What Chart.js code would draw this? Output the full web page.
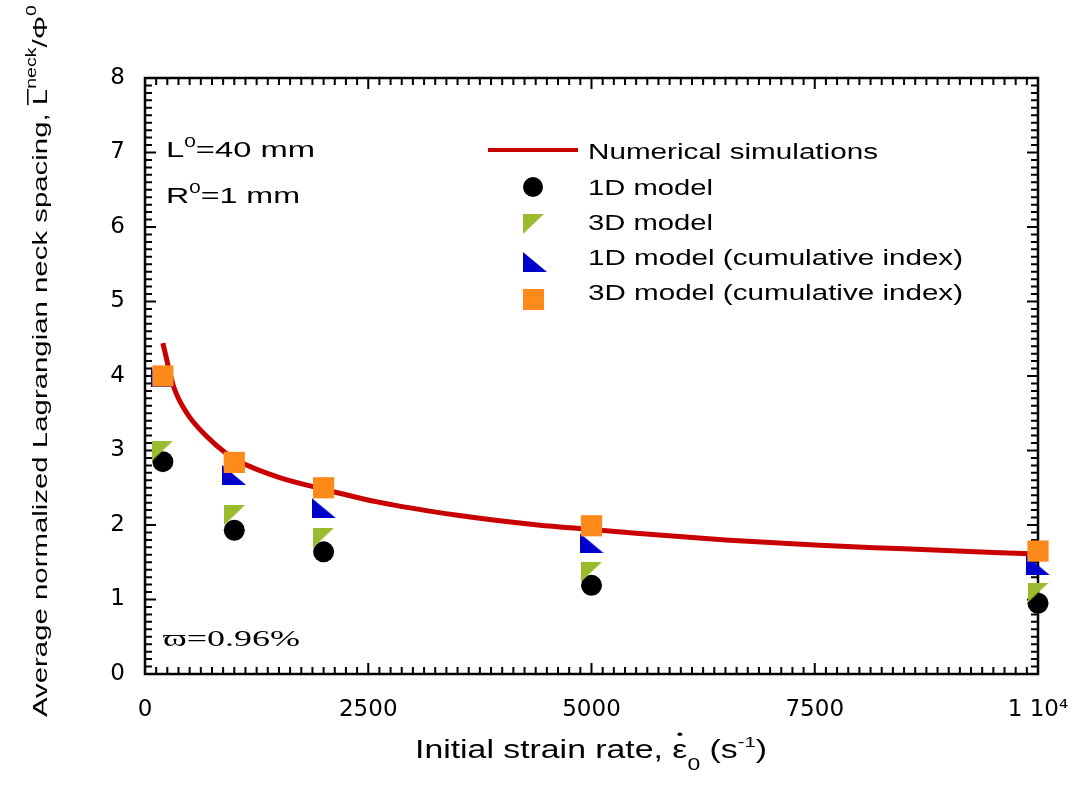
<!DOCTYPE html>
<html>
<head>
<meta charset="utf-8">
<script src="https://cdn.jsdelivr.net/npm/chart.js@4"></script>
<style>
  body { margin: 0; background: #fff; }
  canvas { display: block; }
</style>
</head>
<body>
<canvas id="chart" width="1080" height="789"></canvas>
<script>
// strain rates where the models were evaluated
const rates = [200, 1000, 2000, 5000, 10000];
const oneD = [2.85, 1.93, 1.64, 1.19, 0.95];
const threeD = [3.0, 2.13, 1.83, 1.37, 1.09];
const oneDCum = [3.98, 2.67, 2.23, 1.76, 1.46];
const threeDCum = [4.0, 2.84, 2.5, 1.99, 1.65];

// numerical simulations curve
const simRates = [200, 320, 470, 690, 910, 1060, 1500, 2000, 2600, 3500, 4400, 5000, 5500, 6500, 7500, 8500, 9500, 10000];
const simSpacing = [4.44, 3.86, 3.5, 3.19, 2.96, 2.85, 2.64, 2.48, 2.31, 2.13, 2.0, 1.94, 1.89, 1.8, 1.73, 1.68, 1.63, 1.61];

const xTicks = [0, 2500, 5000, 7500, 10000];
const yTicks = [0, 1, 2, 3, 4, 5, 6, 7, 8];

const RED = "#c80000";
const GREEN = "#9bbb2f";
const BLUE = "#0000cc";
const ORANGE = "#ff8a1c";

const toXY = (xs, ys) => xs.map((x, i) => ({ x: x, y: ys[i] }));

const triangle = (color, w, h, kind) => {
  const c = document.createElement("canvas");
  c.width = w;
  c.height = h;
  const g = c.getContext("2d");
  g.fillStyle = color;
  g.beginPath();
  if (kind === "down") {
    g.moveTo(0, 0); g.lineTo(w, 0); g.lineTo(0, h);
  } else {
    g.moveTo(0, 0); g.lineTo(0, h); g.lineTo(w, h);
  }
  g.closePath();
  g.fill();
  return c;
};
const greenTri = triangle(GREEN, 21, 20, "down");
const blueTri = triangle(BLUE, 24, 20, "up");

// draws a run of text pieces squeezed/stretched to a given width
const fitText = (ctx, pieces, x, y, width) => {
  let raw = 0;
  for (const p of pieces) {
    ctx.font = p.size + "px " + (p.family || "'Liberation Sans', Arial");
    p.w = ctx.measureText(p.t).width;
    raw += p.w;
  }
  const sx = width / raw;
  ctx.save();
  ctx.translate(x, y);
  ctx.scale(sx, 1);
  ctx.fillStyle = "#000";
  ctx.textBaseline = "alphabetic";
  ctx.textAlign = "left";
  let cx = 0;
  for (const p of pieces) {
    ctx.font = p.size + "px " + (p.family || "'Liberation Sans', Arial");
    ctx.fillText(p.t, cx, p.dy || 0);
    if (p.bar) {
      ctx.fillRect(cx, -p.size * 0.95, p.w, 1.5);
    }
    if (p.dot) {
      ctx.beginPath();
      ctx.arc(cx + p.w / 2, -p.size * 0.95, 1.8, 0, Math.PI * 2);
      ctx.fill();
    }
    cx += p.w;
  }
  ctx.restore();
};

const framePlugin = {
  id: "frame",
  beforeDatasetsDraw(chart) {
    const { ctx, chartArea: a, scales } = chart;
    ctx.save();
    ctx.strokeStyle = "#000";
    ctx.lineWidth = 2.5;
    ctx.strokeRect(a.left, a.top, a.right - a.left, a.bottom - a.top);
    ctx.lineWidth = 2;
    ctx.beginPath();
    for (let i = 0; i <= 80; i++) {
      const py = scales.y.getPixelForValue(i / 10);
      const len = i % 10 === 0 ? 11 : 7;
      ctx.moveTo(a.left, py); ctx.lineTo(a.left + len, py);
      ctx.moveTo(a.right, py); ctx.lineTo(a.right - len, py);
    }
    for (let i = 0; i <= 80; i++) {
      const px = scales.x.getPixelForValue(i * 125);
      const len = i % 20 === 0 ? 11 : 7;
      ctx.moveTo(px, a.bottom); ctx.lineTo(px, a.bottom - len);
      ctx.moveTo(px, a.top); ctx.lineTo(px, a.top + len);
    }
    ctx.stroke();
    ctx.restore();
  },
  afterDraw(chart) {
    const ctx = chart.ctx;
    ctx.save();

    // axis titles
    ctx.save();
    ctx.translate(47, 717);
    ctx.rotate(-Math.PI / 2);
    fitText(ctx, [
      { t: "Average normalized Lagrangian neck spacing, ", size: 21 },
      { t: "L", size: 21, bar: true },
      { t: "neck", size: 14, dy: -11 },
      { t: "/Φ", size: 21 },
      { t: "0", size: 14, dy: -11 },
    ], 0, 0, 712);
    ctx.restore();

    fitText(ctx, [
      { t: "Initial strain rate, ", size: 25 },
      { t: "ε", size: 25, dot: true },
      { t: "0", size: 17, dy: 12 },
      { t: " (s", size: 25 },
      { t: "-1", size: 15, dy: -11 },
      { t: ")", size: 25 },
    ], 415, 758, 352);

    // annotations
    fitText(ctx, [
      { t: "L", size: 22 },
      { t: "0", size: 14, dy: -10 },
      { t: "=40 mm", size: 22 },
    ], 166, 157, 149);
    fitText(ctx, [
      { t: "R", size: 22 },
      { t: "0", size: 14, dy: -10 },
      { t: "=1 mm", size: 22 },
    ], 166, 203, 134);
    fitText(ctx, [
      { t: "ϖ=0.96%", size: 24, family: "'Liberation Serif', 'DejaVu Serif', serif" },
    ], 163, 646, 137);

    // legend
    ctx.strokeStyle = RED;
    ctx.lineWidth = 4;
    ctx.beginPath();
    ctx.moveTo(488, 150);
    ctx.lineTo(578, 150);
    ctx.stroke();

    ctx.fillStyle = "#000";
    ctx.beginPath();
    ctx.arc(533, 187, 10, 0, Math.PI * 2);
    ctx.fill();
    ctx.drawImage(greenTri, 523, 214);
    ctx.drawImage(blueTri, 523, 252);
    ctx.fillStyle = ORANGE;
    ctx.fillRect(523, 289, 21, 21);

    const legendLabels = [
      ["Numerical simulations", 159, 290],
      ["1D model", 195, 125],
      ["3D model", 230, 125],
      ["1D model (cumulative index)", 265, 375],
      ["3D model (cumulative index)", 300, 375],
    ];
    for (const [t, y, w] of legendLabels) {
      fitText(ctx, [{ t: t, size: 22 }], 588, y, w);
    }
    ctx.restore();
  },
};

const tickFont = { family: "'DejaVu Sans', sans-serif", size: 23 };

new Chart(document.getElementById("chart"), {
  type: "scatter",
  data: {
    datasets: [
      {
        label: "3D model (cumulative index)",
        data: toXY(rates, threeDCum),
        pointStyle: "rect",
        pointRadius: 15,
        backgroundColor: ORANGE,
        borderWidth: 0,
        order: 0,
        clip: false,
      },
      {
        label: "1D model (cumulative index)",
        data: toXY(rates, oneDCum),
        pointStyle: blueTri,
        pointRadius: 12,
        order: 1,
        clip: false,
      },
      {
        label: "3D model",
        data: toXY(rates, threeD),
        pointStyle: greenTri,
        pointRadius: 11,
        order: 2,
        clip: false,
      },
      {
        label: "1D model",
        data: toXY(rates, oneD),
        pointStyle: "circle",
        pointRadius: 10.5,
        backgroundColor: "#000",
        borderWidth: 0,
        order: 3,
        clip: false,
      },
      {
        type: "line",
        label: "Numerical simulations",
        data: toXY(simRates, simSpacing),
        borderColor: RED,
        borderWidth: 5,
        pointRadius: 0,
        fill: false,
        cubicInterpolationMode: "monotone",
        order: 4,
      },
    ],
  },
  options: {
    responsive: false,
    animation: false,
    devicePixelRatio: 1,
    layout: { padding: { top: 78, right: 42, left: 0, bottom: 0 } },
    plugins: {
      legend: { display: false },
      tooltip: { enabled: false },
    },
    scales: {
      x: {
        type: "linear",
        min: 0,
        max: 10000,
        afterBuildTicks: (s) => { s.ticks = xTicks.map((v) => ({ value: v })); },
        ticks: {
          padding: 22,
          font: tickFont,
          color: "#000",
          maxRotation: 0,
          callback: (v) => (v === 10000 ? "1 10⁴" : String(v)),
        },
        grid: { display: false, drawTicks: false },
        border: { display: false },
        afterFit: (s) => {
          s.height = 115;
          s.paddingLeft = 0;
          s.paddingRight = 0;
        },
      },
      y: {
        min: 0,
        max: 8,
        afterBuildTicks: (s) => { s.ticks = yTicks.map((v) => ({ value: v })); },
        ticks: { padding: 20, font: tickFont, color: "#000" },
        grid: { display: false, drawTicks: false },
        border: { display: false },
        afterFit: (s) => {
          s.width = 145;
          s.paddingTop = 0;
          s.paddingBottom = 0;
        },
      },
    },
  },
  plugins: [framePlugin],
});
</script>
</body>
</html>
